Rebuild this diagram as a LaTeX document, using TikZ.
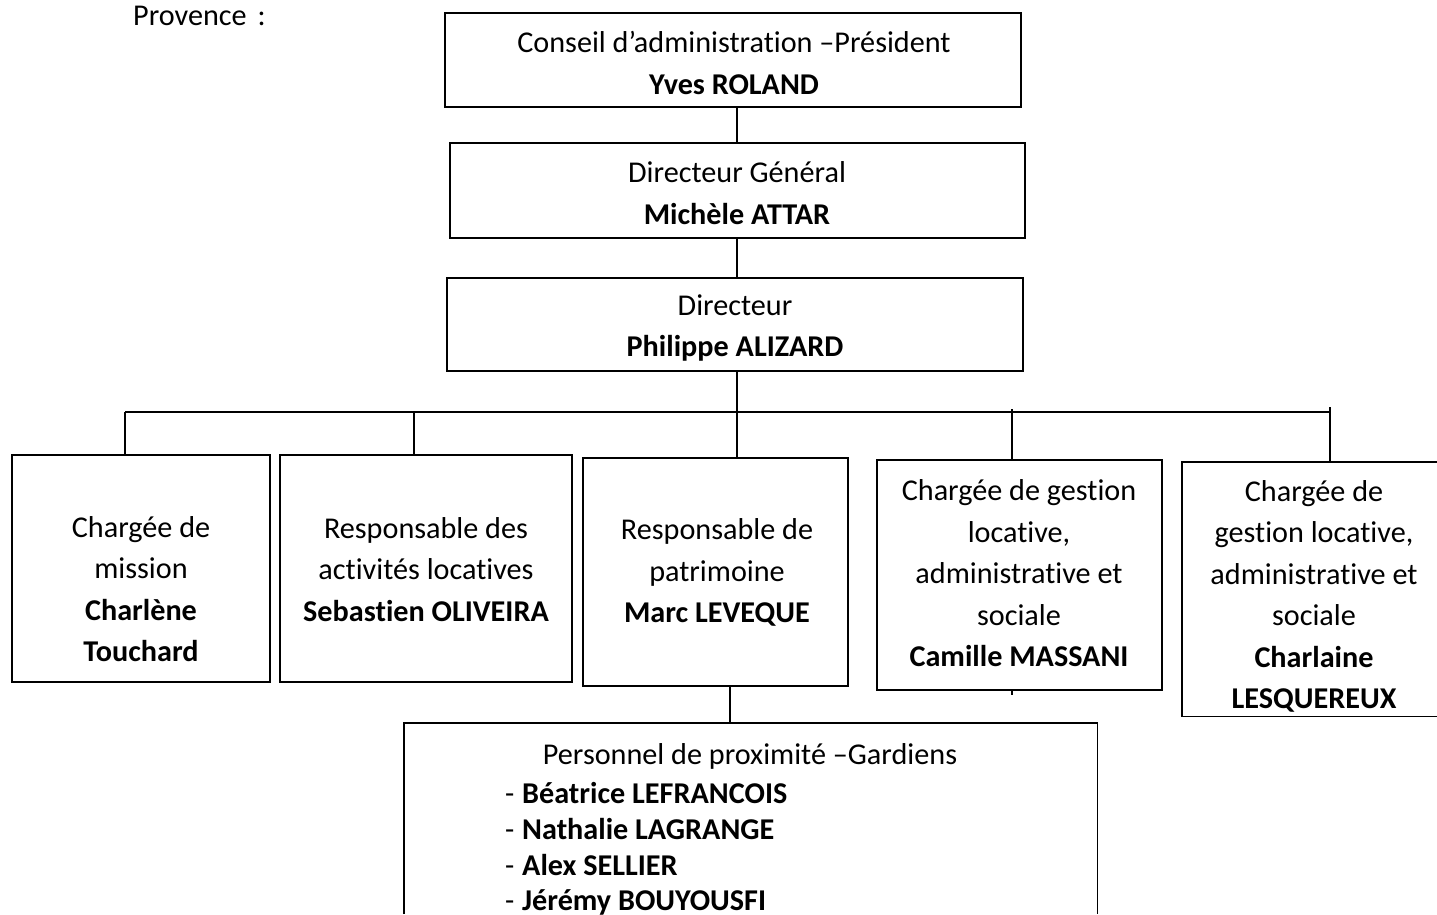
\documentclass[tikz,border=0pt]{standalone}
\usepackage{fontspec}
\setmainfont{Carlito}[Ligatures=CommonOff]
\begin{document}
\begin{tikzpicture}[x=1pt,y=-1pt,
  box/.style={draw, line width=1.4pt, rectangle, inner sep=0pt},
  frame/.style={rectangle, inner sep=0pt},
  txt/.style={align=center, inner sep=0pt, font=\fontsize{30.2}{41.5}\selectfont},
  listtxt/.style={align=left, inner sep=0pt, font=\fontsize{30.2}{35.7}\selectfont},
  wire/.style={line width=1.4pt}]
\useasboundingbox (0,0) rectangle (1437,914);

% title
\node[anchor=base west, inner sep=0pt, font=\fontsize{30.2}{34}\selectfont] (prov) at (133,25) {Provence\hspace{11pt}:};

% boxes
\node[box, minimum width=576, minimum height=94] (ca) at (733,60) {};
\node[box, minimum width=575, minimum height=95] (dg) at (737.5,190.5) {};
\node[box, minimum width=576, minimum height=93] (dir) at (735,324.5) {};
\node[box, minimum width=258, minimum height=227] (b1) at (141,568.5) {};
\node[box, minimum width=292, minimum height=227] (b2) at (426,568.5) {};
\node[box, minimum width=265, minimum height=228] (b3) at (715.5,572) {};
\node[box, minimum width=285, minimum height=230] (b4) at (1019.5,575) {};
\node[frame, minimum width=260, minimum height=254] (b5) at (1312,589) {};
\draw[wire] (b5.south east) -- (b5.south west) -- (b5.north west) -- (b5.north east);
\node[frame, minimum width=693, minimum height=191] (pers) at (750.5,818.5) {};
\draw[wire] (pers.south west) -- (pers.north west) -- (pers.north east) -- (pers.south east);

% texts
\node[txt] (tca) at (734,63) {Conseil d’administration –Président\\\textbf{Yves ROLAND}};
\node[txt] (tdg) at (737,193) {Directeur Général\\\textbf{Michèle ATTAR}};
\node[txt] (tdir) at (735,328) {Directeur\\\textbf{Philippe ALIZARD}};
\node[txt] (t1) at (141,589) {Chargée de\\mission\\\textbf{Charlène}\\\textbf{Touchard}};
\node[txt] (t2) at (426,569.5) {Responsable des\\activités locatives\\\textbf{Sebastien OLIVEIRA}};
\node[txt] (t3) at (717,572.5) {Responsable de\\patrimoine\\\textbf{Marc LEVEQUE}};
\node[txt] (t4) at (1019,573.5) {Chargée de gestion\\locative,\\administrative et\\sociale\\\textbf{Camille MASSANI}};
\node[txt] (t5) at (1314,596.5) {Chargée de\\gestion locative,\\administrative et\\sociale\\\textbf{Charlaine}\\\textbf{LESQUEREUX}};
\node[txt] (tp) at (750,756) {Personnel de proximité –Gardiens};
\node[listtxt, anchor=west] (tl) at (505,849) {\makebox[17pt][l]{-}\textbf{Béatrice LEFRANCOIS}\\
\makebox[17pt][l]{-}\textbf{Nathalie LAGRANGE}\\
\makebox[17pt][l]{-}\textbf{Alex SELLIER}\\
\makebox[17pt][l]{-}\textbf{Jérémy BOUYOUSFI}};

% connectors
\coordinate (cx) at (737,0);
\coordinate (busL) at (125,412);
\coordinate (busR) at (1330,412);
\coordinate (x2) at (414,0);
\coordinate (x4) at (1012,0);
\coordinate (mp) at (730,0);
\coordinate (tickR) at (1330,407);
\coordinate (tick4) at (1012,409);
\coordinate (stub4) at (1012,695);

\draw[wire] (ca.south -| cx) -- (dg.north -| cx);
\draw[wire] (dg.south -| cx) -- (dir.north -| cx);
\draw[wire] (dir.south -| cx) -- (b3.north -| cx);
\draw[wire] (busL) -- (busR);
\draw[wire] (busL) -- (b1.north -| busL);
\draw[wire] (b2.north -| x2) -- (busL -| x2);
\draw[wire] (tick4) -- (b4.north -| tick4);
\draw[wire] (b4.south -| stub4) -- (stub4);
\draw[wire] (tickR) -- (b5.north -| tickR);
\draw[wire] (b3.south -| mp) -- (pers.north -| mp);
\end{tikzpicture}
\end{document}
